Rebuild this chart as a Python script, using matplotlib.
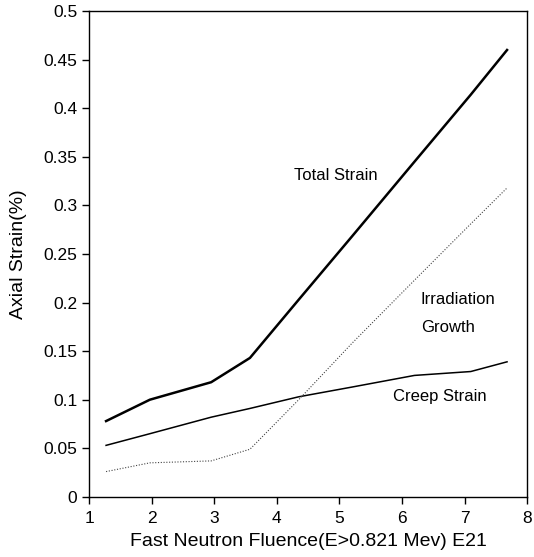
import matplotlib.pyplot as plt

plt.rcParams['font.family'] = ['Liberation Sans', 'DejaVu Sans']

# fluence values (E21)
fluence = [1.27, 1.97, 2.95, 3.57, 4.35, 5.2, 6.2, 7.1, 7.68]
total_strain = [0.078, 0.100, 0.118, 0.143, 0.203, 0.268, 0.345, 0.414, 0.460]
creep_strain = [0.053, 0.065, 0.082, 0.091, 0.103, 0.113, 0.125, 0.129, 0.139]
irradiation_growth = [0.026, 0.035, 0.037, 0.049, 0.100, 0.158, 0.223, 0.281, 0.318]

xticks = [1, 2, 3, 4, 5, 6, 7, 8]
yticks = [0, 0.05, 0.1, 0.15, 0.2, 0.25, 0.3, 0.35, 0.4, 0.45, 0.5]
ytick_labels = ['0', '0.05', '0.1', '0.15', '0.2', '0.25', '0.3', '0.35', '0.4', '0.45', '0.5']

fig = plt.figure(figsize=(5.34, 5.57), dpi=100)
ax = fig.add_axes([0.167, 0.108, 0.820, 0.872])

ax.plot(fluence, total_strain, color='black', lw=1.8)
ax.plot(fluence, creep_strain, color='black', lw=1.1)
ax.plot(fluence, irradiation_growth, color='#444444', lw=0.8, ls=(0, (1, 1.5)))

ax.text(4.28, 0.331, 'Total Strain', fontsize=12, va='center')
ax.text(6.3, 0.203, 'Irradiation', fontsize=12, va='center')
ax.text(6.3, 0.174, 'Growth', fontsize=12, va='center')
ax.text(5.85, 0.103, 'Creep Strain', fontsize=12, va='center')

ax.set_xlim(1, 8)
ax.set_ylim(0, 0.5)
ax.set_xticks(xticks)
ax.set_yticks(yticks)
ax.set_yticklabels(ytick_labels)
ax.tick_params(direction='out', length=5, width=1, labelsize=12.5, colors='black')
ax.tick_params(axis='x', pad=5)

for s in ax.spines.values():
    s.set_linewidth(1)

ax.set_xlabel('Fast Neutron Fluence(E>0.821 Mev) E21', fontsize=14, labelpad=5)
ax.set_ylabel('Axial Strain(%)', fontsize=14, labelpad=12)

fig.savefig('out.png', dpi=100)
